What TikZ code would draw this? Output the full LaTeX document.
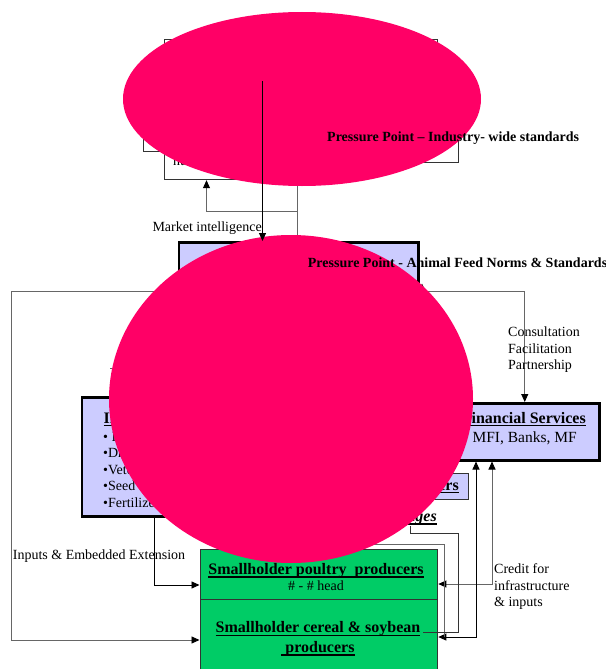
\documentclass[tikz,border=0pt]{standalone}
\usepackage{fontspec}
\setmainfont{Liberation Serif}
\usetikzlibrary{arrows.meta}
\definecolor{pinkblob}{HTML}{FF0066}
\definecolor{lav}{HTML}{CCCCFF}
\definecolor{grn}{HTML}{00CC66}
\definecolor{lgray}{HTML}{666666}
\definecolor{dgray}{HTML}{333333}
\newcommand\ulx[1]{\setbox0=\hbox{#1}\rlap{\rule[-3.2pt]{\wd0}{1.3pt}}\box0}
\tikzset{
  thickbox/.style={draw=black, line width=2.5pt, fill=lav, inner sep=0pt, anchor=north west},
  thinbox/.style={draw=dgray, line width=0.9pt, inner sep=0pt, anchor=north west},
  grnbox/.style={draw=dgray, line width=1pt, fill=grn, inner sep=0pt, anchor=north west},
  conn/.style={line width=0.9pt, draw=black},
  gconn/.style={line width=0.9pt, draw=lgray},
  tip/.style={-{Triangle[length=8pt,width=7pt,color=black]}},
  twotip/.style={{Triangle[length=8pt,width=7pt,color=black]}-{Triangle[length=8pt,width=7pt,color=black]}},
  lbl/.style={font=\fontsize{14}{17}\selectfont, inner sep=0pt, anchor=base west},
  bld/.style={font=\bfseries\fontsize{14}{17}\selectfont, inner sep=0pt, anchor=base west},
  hd/.style={font=\bfseries\fontsize{16}{19}\selectfont, inner sep=0pt},
}
\begin{document}
\begin{tikzpicture}[x=1pt,y=-1pt]
\useasboundingbox (0,0) rectangle (605,669);
% ---- middle box
\node[thickbox, minimum width=239.4pt, minimum height=40pt] (mid) at (177.6,241) {};
% ---- top boxes (mostly hidden)
\node[thinbox, minimum width=272.4pt, minimum height=61pt] (boxA) at (164.3,39.3) {};
\node[thinbox, minimum width=116.7pt, minimum height=50.7pt] (boxB) at (143.3,100) {};
\node[thinbox, minimum width=108pt, minimum height=51.7pt] (boxD) at (350,110) {};
\node[thinbox, minimum width=185.7pt, minimum height=59.3pt] (boxC) at (164.3,120) {};
\node[lbl] (proc) at (173,165.5) {nutrition};
\coordinate (mk) at (297,211);
\coordinate (ma) at (206.5,211);
\draw[gconn] (mid.north -| mk) -- (boxC.south -| mk);
\draw[gconn, tip] (mk) -- (ma) -- (boxC.south -| ma);
% ---- top blob
\fill[pinkblob] (302,99) ellipse [x radius=179pt, y radius=87pt];
\node[bld] (pp1) at (327,141) {Pressure Point – Industry- wide standards};
\node[lbl] (mint) at (152.3,231.7) {Market intelligence};
% ---- inputs box
\node[thickbox, minimum width=219.5pt, minimum height=119pt] (inputs) at (80.5,396) {};
\node[hd, anchor=base west] (inhd) at (103.5,423) {\ulx{Input Suppliers}};
\node[lbl] (i1) at (103,441) {• Input dealers};
\node[lbl] (i2) at (103,457.5) {•Drugs};
\node[lbl] (i3) at (103,474) {•Veterinary services};
\node[lbl] (i4) at (103,490.5) {•Seed};
\node[lbl] (i5) at (103,507) {•Fertilizer};
% ---- financial box
\node[thickbox, minimum width=149pt, minimum height=57pt] (fin) at (449,402) {};
\node[hd, anchor=base east] (finhd) at (586,423) {\ulx{Financial Services}};
\node[font=\fontsize{15.5}{18}\selectfont, inner sep=0pt, anchor=base east] (fin2) at (577,442) {MFI, Banks, MF};
% ---- traders box
\node[thinbox, fill=lav, minimum width=107.7pt, minimum height=26.5pt] (trd) at (360,472.5) {};
\node[hd, anchor=base east] (trdt) at (459,490) {\ulx{Traders}};
\node[font=\bfseries\itshape\fontsize{16}{19}\selectfont, inner sep=0pt, anchor=base east] (link) at (437,521.5) {\ulx{Linkages}};
% ---- green boxes
\node[grnbox, minimum width=237.8pt, minimum height=49.2pt] (poultry) at (199.5,549.3) {};
\node[grnbox, minimum width=237.8pt, minimum height=80pt] (cereal) at (199.5,598.5) {};
\node[hd, anchor=base] (pt1) at (316,574.3) {\ulx{Smallholder poultry~ producers}};
\node[font=\fontsize{14}{17}\selectfont, inner sep=0pt, anchor=base] (pt2) at (316,590.7) {\# - \# head};
\node[hd, anchor=base] (ce1) at (318,632.7) {\ulx{Smallholder cereal \& soybean}};
\node[hd, anchor=base] (ce2) at (318,652.3) {\ulx{\ producers}};
% ---- connectors
\coordinate (lpt) at (300,291);
\coordinate (lleft) at (11,291);
\coordinate (lbot) at (11,640);
\draw[gconn, tip] (lpt) -- (fin.north |- lpt) -- (fin.north);
\draw[gconn, tip] (lpt) -- (lleft) -- (lbot) -- (cereal.west |- lbot);
\coordinate (up1) at (422,291);
\draw[gconn, tip] (up1) -- (up1 |- mid.south);
\coordinate (t1) at (110,368);
\coordinate (t2) at (140,368);
\draw[gconn] (t1) -- (t2);
\coordinate (iv) at (154.5,585);
\draw[conn, tip] (inputs.south -| iv) -- (iv) -- (poultry.west |- iv);
\node[lbl] (iee) at (12.7,559.3) {Inputs \& Embedded Extension};
\coordinate (c1) at (492,584);
\draw[gconn, twotip] (poultry.east |- c1) -- (c1) -- (fin.south -| c1);
\coordinate (c2) at (476,637);
\draw[conn, twotip] (cereal.east |- c2) -- (c2) -- (fin.south -| c2);
\coordinate (g1) at (360,544);
\coordinate (g2) at (444,544);
\coordinate (g3) at (444,637);
\draw[gconn] (g1) -- (g2) -- (g3);
\coordinate (k1) at (410,526);
\coordinate (k2) at (410,533);
\coordinate (k3) at (458,533);
\coordinate (k4) at (458,632);
\coordinate (k5) at (423,632);
\draw[conn, draw=dgray] (k1) -- (k2) -- (k3) -- (k4) -- (k5);
\node[lbl] (cr1) at (494,573.3) {Credit for};
\node[lbl] (cr2) at (494,590) {infrastructure};
\node[lbl] (cr3) at (494,606.5) {\& inputs};
\node[lbl] (co1) at (508,336.7) {Consultation};
\node[lbl] (co2) at (508,353.3) {Facilitation};
\node[lbl] (co3) at (508,369.5) {Partnership};
% ---- big blob
\fill[pinkblob] (291,399) ellipse [x radius=182pt, y radius=164pt];
% ---- on top of blobs
\coordinate (mi) at (262.5,81);
\draw[conn, tip] (mi) -- (mi |- mid.north);
\node[bld] (pp2) at (307.7,267.3) {Pressure Point - Animal Feed Norms \& Standards};
\end{tikzpicture}
\end{document}
